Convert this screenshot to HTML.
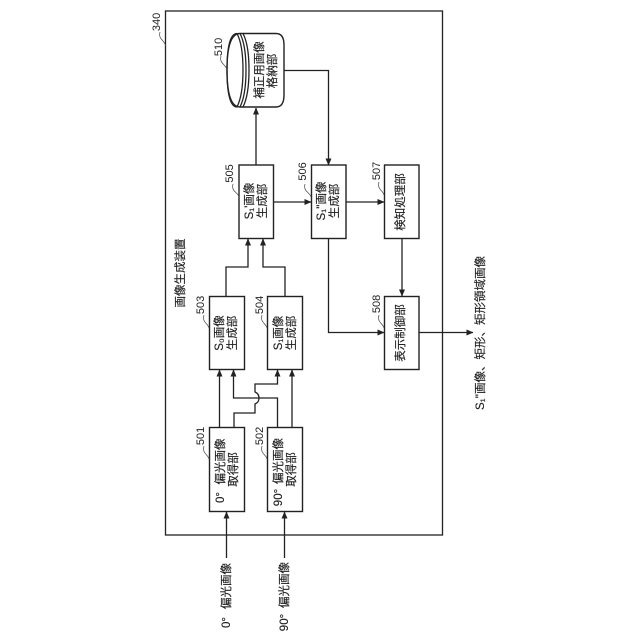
<!DOCTYPE html>
<html><head><meta charset="utf-8">
<style>
html,body{margin:0;padding:0;background:#fff}
svg{display:block}
text{font-family:"Liberation Sans","Noto Sans CJK JP",sans-serif;font-size:11.5px;fill:#222;stroke:#222;stroke-width:.15;text-anchor:middle;dominant-baseline:central}
.n{font-size:11px;stroke-width:0}
.b{fill:#fff;stroke:#222;stroke-width:1.4}
.l{fill:none;stroke:#222;stroke-width:1.3}
.t{fill:none;stroke:#444;stroke-width:.7}
</style></head><body>
<svg width="640" height="640" viewBox="0 0 640 640" xmlns="http://www.w3.org/2000/svg">
<defs><marker id="a" markerWidth="8" markerHeight="8" refX="6.5" refY="3" orient="auto" markerUnits="userSpaceOnUse"><path d="M0 0L7 3L0 6Z" fill="#222"/></marker></defs>
<rect class="l" x="165.5" y="11" width="277" height="524"/>
<!-- boxes -->
<rect class="b" x="209.5" y="427.5" width="35" height="84"/>
<rect class="b" x="267.5" y="427.5" width="35" height="84"/>
<rect class="b" x="209.5" y="296.5" width="35" height="73"/>
<rect class="b" x="267.5" y="296.5" width="35" height="73"/>
<rect class="b" x="239" y="165" width="34.500" height="73.500"/>
<rect class="b" x="311.500" y="165" width="34.500" height="73.500"/>
<rect class="b" x="384.500" y="165" width="34.500" height="73.500"/>
<rect class="b" x="384.500" y="296.500" width="34.500" height="73"/>
<!-- cylinder -->
<path class="b" d="M240 33.500H276Q284 33.500 284 45V95Q284 107 276 107H240Q227 107 227 70Q227 33.500 240 33.500Z"/>
<path class="l" d="M237 33.500Q227 33.500 227 70Q227 107 237 107Q243 95 243 70Q243 45 237 33.500Z"/>
<path class="l" d="M240 33.500Q246 45 246 70Q246 95 240 107"/>
<path class="l" d="M243 33.500Q249 45 249 70Q249 95 243 107"/>
<!-- connectors -->
<path class="l" marker-end="url(#a)" d="M226.500 558V512"/>
<path class="l" marker-end="url(#a)" d="M284.500 558V512"/>
<path class="l" marker-end="url(#a)" d="M219.500 427V370"/>
<path class="l" marker-end="url(#a)" d="M234 427V413H255V404A6.500 6.500 0 0 0 255 392V384H277.500V370"/>
<path class="l" marker-end="url(#a)" d="M277.500 427V398H233.500V370"/>
<path class="l" marker-end="url(#a)" d="M292 427V370"/>
<path class="l" marker-end="url(#a)" d="M226 296V267H248V239"/>
<path class="l" marker-end="url(#a)" d="M285 296V267H263V239"/>
<path class="l" marker-end="url(#a)" d="M256 165V108"/>
<path class="l" marker-end="url(#a)" d="M273 202H311"/>
<path class="l" marker-end="url(#a)" d="M284 70.500H328.500V165"/>
<path class="l" marker-end="url(#a)" d="M346 202H384"/>
<path class="l" marker-end="url(#a)" d="M328.500 238V332.500H384"/>
<path class="l" marker-end="url(#a)" d="M402 238V296"/>
<path class="l" marker-end="url(#a)" d="M419 332.500H473"/>
<!-- leaders -->
<path class="t" d="M160 32C158 40 165 40 165.500 46"/>
<path class="t" d="M221 56C219 64 226 64 227 70"/>
<path class="t" d="M204 446C202 454 208 454 209 459"/>
<path class="t" d="M262 446C260 454 266 454 267 459"/>
<path class="t" d="M204 315C202 323 208 323 209 328"/>
<path class="t" d="M262 315C260 323 266 323 267 328"/>
<path class="t" d="M233 184C231 192 238 192 239 197"/>
<path class="t" d="M305 184C303 192 310 192 311 197"/>
<path class="t" d="M379 182C377 190 383 190 384 195"/>
<path class="t" d="M379 315C377 323 383 323 384 328"/>
<!-- numerals -->
<text class="n" transform="translate(157,22) rotate(-90)">340</text>
<text class="n" transform="translate(219,47) rotate(-90)">510</text>
<text class="n" transform="translate(201,436) rotate(-90)">501</text>
<text class="n" transform="translate(260,436) rotate(-90)">502</text>
<text class="n" transform="translate(201,305) rotate(-90)">503</text>
<text class="n" transform="translate(260,305) rotate(-90)">504</text>
<text class="n" transform="translate(230,173.500) rotate(-90)">505</text>
<text class="n" transform="translate(303,171.500) rotate(-90)">506</text>
<text class="n" transform="translate(377,171) rotate(-90)">507</text>
<text class="n" transform="translate(377,304) rotate(-90)">508</text>
<!-- labels -->
<text transform="translate(181,273) rotate(-90)">画像生成装置</text>
<text transform="translate(221,497.500) rotate(-90)">0°</text>
<text transform="translate(221,461.500) rotate(-90)">偏光画像</text>
<text transform="translate(234,469.500) rotate(-90)">取得部</text>
<text transform="translate(279,497.500) rotate(-90)">90°</text>
<text transform="translate(279,461) rotate(-90)">偏光画像</text>
<text transform="translate(292,469.500) rotate(-90)">取得部</text>
<text transform="translate(220,333) rotate(-90)">S₀画像</text>
<text transform="translate(233,333) rotate(-90)">生成部</text>
<text transform="translate(279,333) rotate(-90)">S₁画像</text>
<text transform="translate(292,333) rotate(-90)">生成部</text>
<text transform="translate(250,201) rotate(-90)">S₁'画像</text>
<text transform="translate(263,201) rotate(-90)">生成部</text>
<text transform="translate(322,201) rotate(-90)">S₁''画像</text>
<text transform="translate(335,201) rotate(-90)">生成部</text>
<text transform="translate(401,202) rotate(-90)">検知処理部</text>
<text transform="translate(401,333) rotate(-90)">表示制御部</text>
<text transform="translate(260,70) rotate(-90)">補正用画像</text>
<text transform="translate(273,71) rotate(-90)">格納部</text>
<text transform="translate(227,622.500) rotate(-90)">0°</text>
<text transform="translate(227,586) rotate(-90)">偏光画像</text>
<text transform="translate(285,622.500) rotate(-90)">90°</text>
<text transform="translate(285,585) rotate(-90)">偏光画像</text>
<text transform="translate(481,333) rotate(-90)">S₁''画像、矩形、矩形領域画像</text>
</svg>
</body></html>
